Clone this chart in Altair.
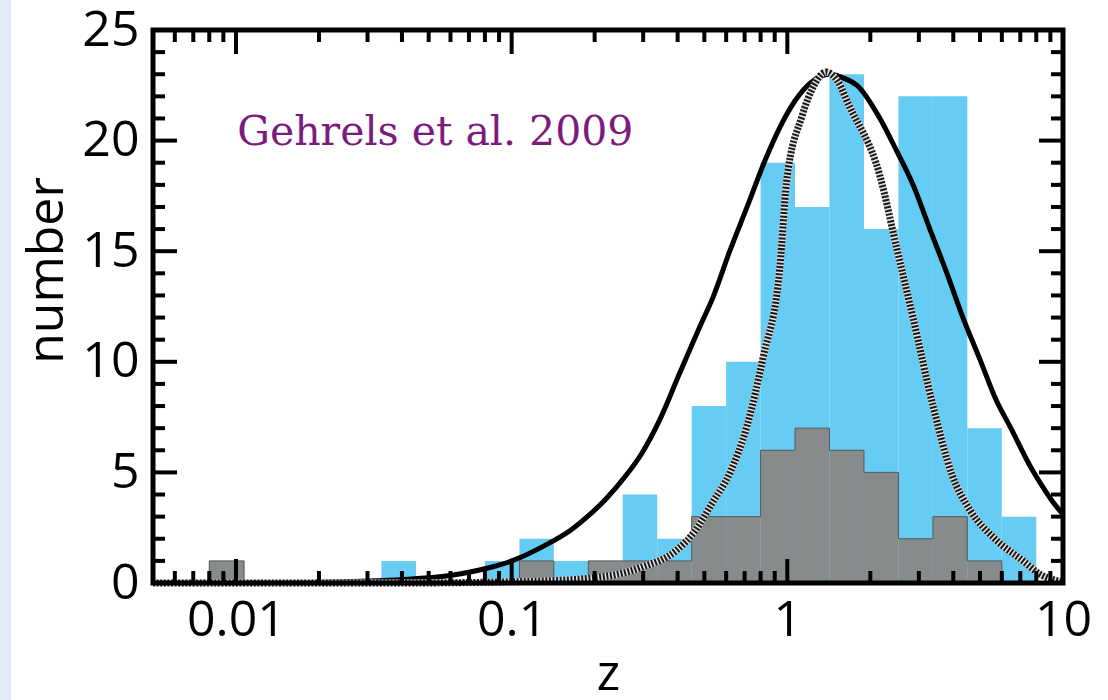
import altair as alt
import pandas as pd

# ---------------- data ----------------
# histogram bins (8 per decade), lower / upper edges in z
bin_lo = [0.0080, 0.0337, 0.0800, 0.1067, 0.1422, 0.1897, 0.2529, 0.3373, 0.4498,
          0.5998, 0.7998, 1.0666, 1.4223, 1.8967, 2.5293, 3.3729, 4.4978, 5.9979]
bin_hi = [0.0107, 0.0450, 0.1067, 0.1422, 0.1897, 0.2529, 0.3373, 0.4498, 0.5998,
          0.7998, 1.0666, 1.4223, 1.8967, 2.5293, 3.3729, 4.4978, 5.9979, 7.9980]
blue_counts = [1, 1, 1, 2, 1, 1, 4, 2, 8, 10, 19, 17, 23, 16, 22, 22, 7, 3]
grey_counts = [1, 0, 0, 1, 0, 1, 1, 1, 3, 3, 6, 7, 6, 5, 2, 3, 1, 0]

# solid curve
solid_z = [0.005, 0.01125, 0.02193, 0.03936, 0.0597, 0.0834, 0.1012, 0.1321, 0.1641,
           0.1923, 0.2198, 0.2576, 0.2944, 0.3451, 0.4074, 0.4819, 0.5370, 0.6180,
           0.7145, 0.8299, 0.9397, 1.0666, 1.2106, 1.4289, 1.6181, 1.7906, 2.1677,
           2.5003, 2.8576, 3.2885, 3.7931, 4.3351, 5.0003, 5.6624, 6.5313, 7.5858,
           8.5901, 9.2683, 10.0]
solid_n = [0.0, 0.01, 0.05, 0.15, 0.34, 0.7, 1.02, 1.7, 2.4,
           3.1, 3.8, 4.8, 5.8, 7.4, 9.5, 11.6, 12.9, 15.0,
           17.0, 19.1, 20.6, 21.8, 22.6, 23.0, 22.8, 22.5, 21.0,
           19.5, 18.0, 16.0, 14.0, 12.0, 10.1, 8.4, 6.9, 5.3,
           4.2, 3.6, 3.1]

# dotted curve
dotted_z = [0.005, 0.0394, 0.1216, 0.220, 0.294, 0.398, 0.459, 0.533, 0.620, 0.714,
            0.817, 0.940, 0.993, 1.130, 1.250, 1.380, 1.520, 1.672, 2.168, 2.497,
            2.856, 3.377, 3.955, 4.596, 5.66, 7.16, 8.25, 10.0]
dotted_n = [0.0, 0.0, 0.08, 0.3, 0.7, 1.5, 2.3, 3.6, 5.0, 7.1,
            10.2, 14.3, 18.1, 21.1, 22.5, 23.1, 22.7, 21.6, 18.4, 15.1,
            12.0, 8.0, 4.9, 3.3, 2.0, 1.0, 0.4, 0.05]

x_label_values = [0.01, 0.1, 1, 10]
x_minor = [0.005, 0.006, 0.007, 0.008, 0.009,
           0.02, 0.03, 0.04, 0.05, 0.06, 0.07, 0.08, 0.09,
           0.2, 0.3, 0.4, 0.5, 0.6, 0.7, 0.8, 0.9,
           2, 3, 4, 5, 6, 7, 8, 9]
y_label_values = [0, 5, 10, 15, 20, 25]
y_minor = [1, 2, 3, 4, 6, 7, 8, 9, 11, 12, 13, 14, 16, 17, 18, 19, 21, 22, 23, 24]

annotation = "Gehrels et al. 2009"
ann_z = [0.0101]
ann_n = [19.8]

# ---------------- styling ----------------
W, H = 910, 553
BLUE = "#66CCF3"
GREY = "#878B8B"
FONT = "Open Sans"
MAJ, MIN = 24, 12

xs = alt.Scale(type="log", domain=[0.005, 10], nice=False)
ys = alt.Scale(domain=[0, 25], nice=False)

df_bins = pd.DataFrame({"lo": bin_lo, "hi": bin_hi, "blue": blue_counts, "grey": grey_counts})
df_grey = df_bins[df_bins["grey"] > 0]

# outline of the grey step histogram
pts = []
n = len(bin_lo)
for i in range(n):
    g = grey_counts[i]
    if g <= 0:
        continue
    prev_ok = i > 0 and grey_counts[i - 1] > 0 and abs(bin_hi[i - 1] - bin_lo[i]) < 1e-6
    next_ok = i < n - 1 and grey_counts[i + 1] > 0 and abs(bin_hi[i] - bin_lo[i + 1]) < 1e-6
    if not prev_ok:
        pts.append((bin_lo[i], 0))
    pts.append((bin_lo[i], g))
    pts.append((bin_hi[i], g))
    if not next_ok:
        pts.append((bin_hi[i], 0))
df_outline = pd.DataFrame({"z": [p[0] for p in pts], "n": [p[1] for p in pts],
                           "o": list(range(len(pts)))})

df_solid = pd.DataFrame({"z": solid_z, "n": solid_n})
df_dotted = pd.DataFrame({"z": dotted_z, "n": dotted_n})

xaxis = alt.Axis(values=x_label_values, format="~g", ticks=False, domain=False, grid=False,
                 labelFont=FONT, labelFontSize=50, labelColor="black", labelPadding=12,
                 labelFlush=False, labelOverlap=False,
                 title="z", titleFont=FONT, titleFontSize=50, titleFontWeight="normal",
                 titleColor="black", titleBaseline="bottom", titleX=455, titleY=116)
yaxis = alt.Axis(values=y_label_values, ticks=False, domain=False, grid=False,
                 labelFont=FONT, labelFontSize=50, labelColor="black", labelPadding=14,
                 labelFlush=False, labelOverlap=False,
                 title="number", titleFont=FONT, titleFontSize=50, titleFontWeight="normal",
                 titleColor="black", titleAngle=270, titleBaseline="alphabetic",
                 titleAlign="center", titleX=-91, titleY=240)


def X(field):
    return alt.X(field, scale=xs, axis=xaxis)


def Y(field):
    return alt.Y(field, scale=ys, axis=yaxis)


blue = alt.Chart(df_bins).mark_rect(color=BLUE).encode(
    x=X("lo:Q"), x2="hi:Q", y=Y("blue:Q"), y2=alt.datum(0),
)

grey = alt.Chart(df_grey).mark_rect(color=GREY).encode(
    x=X("lo:Q"), x2="hi:Q", y=Y("grey:Q"), y2=alt.datum(0),
)

outline = alt.Chart(df_outline).mark_line(color="#555858", strokeWidth=1).encode(
    x=X("z:Q"), y=Y("n:Q"), order="o:Q",
)

solid = alt.Chart(df_solid).mark_line(color="black", strokeWidth=5, interpolate="monotone").encode(
    x=X("z:Q"), y=Y("n:Q"),
)

dotted_bg = alt.Chart(df_dotted).mark_line(color="#e2e2e2", strokeWidth=7, interpolate="monotone").encode(
    x=X("z:Q"), y=Y("n:Q"),
)
dotted = alt.Chart(df_dotted).mark_line(color="#1a1a1a", strokeWidth=7, strokeDash=[2, 1.6],
                                        interpolate="monotone").encode(
    x=X("z:Q"), y=Y("n:Q"),
)

text = alt.Chart(pd.DataFrame({"z": ann_z, "n": ann_n, "t": [annotation]})).mark_text(
    align="left", baseline="alphabetic", font="DejaVu Serif", fontSize=41, color="#7B1C7D"
).encode(x=X("z:Q"), y=Y("n:Q"), text="t:N")

frame = alt.Chart(pd.DataFrame({"a": [0]})).mark_rect(
    filled=False, stroke="black", strokeWidth=5
).encode(x=alt.value(0), x2=alt.value(W), y=alt.value(0), y2=alt.value(H))

# faint bluish strip along the left edge of the scanned figure
strip = alt.Chart(pd.DataFrame({"a": [0]})).mark_rect(color="#E2E9F8").encode(
    x=alt.value(-153), x2=alt.value(-142), y=alt.value(-30), y2=alt.value(670))

df_xmaj = pd.DataFrame({"t": x_label_values})
df_xmin = pd.DataFrame({"t": x_minor})
df_ymaj = pd.DataFrame({"t": y_label_values})
df_ymin = pd.DataFrame({"t": y_minor})


def xticks(df, length):
    bottom = alt.Chart(df).mark_rule(color="black", strokeWidth=4).encode(
        x=X("t:Q"), y=alt.value(H), y2=alt.value(H - length))
    top = alt.Chart(df).mark_rule(color="black", strokeWidth=4).encode(
        x=X("t:Q"), y=alt.value(0), y2=alt.value(length))
    return [bottom, top]


def yticks(df, length):
    left = alt.Chart(df).mark_rule(color="black", strokeWidth=4).encode(
        y=Y("t:Q"), x=alt.value(0), x2=alt.value(length))
    right = alt.Chart(df).mark_rule(color="black", strokeWidth=4).encode(
        y=Y("t:Q"), x=alt.value(W), x2=alt.value(W - length))
    return [left, right]


layers = [strip, blue, grey, outline, solid, dotted_bg, dotted, text, frame]
layers += xticks(df_xmaj, MAJ) + xticks(df_xmin, MIN) + yticks(df_ymaj, MAJ) + yticks(df_ymin, MIN)

chart = alt.layer(*layers).properties(
    width=W, height=H,
    autosize=alt.AutoSizeParams(type="none"),
    padding={"left": 153, "top": 30, "right": 45, "bottom": 117},
    background="white",
).configure_view(stroke=None)

chart.save("out.html", embed_options={"renderer": "svg", "actions": False})
